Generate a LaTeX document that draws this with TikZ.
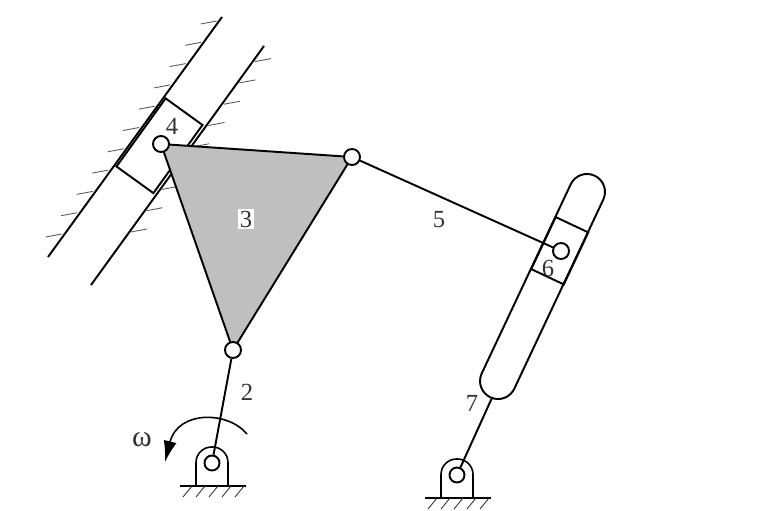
\documentclass[tikz,border=0pt]{standalone}
\usepackage{fontspec}
\setmainfont{Liberation Serif}
\usetikzlibrary{arrows.meta}
\usetikzlibrary{shapes}
\begin{document}
\begin{tikzpicture}[x=0.02cm,y=-0.02cm,font=\fontsize{14}{16}\selectfont,
                pin/.style={circle, draw, fill=white, inner sep=0pt, minimum size=0.32cm, line width=1.1pt},
                block/.style={rectangle, draw, inner sep=0pt, line width=1.1pt},
                slot/.style={rounded rectangle, draw, fill=white, inner sep=0pt, line width=1.1pt},
                num/.style={text=black!80, inner sep=1pt},
                link/.style={draw,line width=1.1pt},
                rail/.style={draw,line width=1.1pt},
                hatch/.style={draw,black!65,line width=0.5pt},
                arrow/.style={draw,line width=0.9pt,-{Latex[length=12pt,width=7.5pt]}}
            ]
            \useasboundingbox (0,0) rectangle (773,510);
            \foreach \i in {0,...,10}
                \path[hatch] ({200.7-15.5*\i},{24+21.3*\i}) -- ++(16,-3);
            \foreach \i in {0,...,8}
                \path[hatch] ({255-15.5*\i},{61.6+21.3*\i}) -- ++(16,-3);
            \coordinate (railatop) at (222,17);
            \coordinate (railabot) at (48,257);
            \coordinate (railbtop) at (264,46);
            \coordinate (railbbot) at (91,285);
            \path[rail] (railatop) -- (railabot);
            \path[rail] (railbtop) -- (railbbot);
            \node[block, minimum width=1.68cm, minimum height=0.91cm, rotate=54.2](s4) at (159.5,145.75){};
            \coordinate (c4) at (161,144);
            \coordinate (c3) at (352,157);
            \coordinate (c2) at (233,350);
            \path[link,fill=black!25] (c4) -- (c3) -- (c2) -- cycle;
            \node[pin](j4) at (c4){};
            \node[pin](j3) at (c3){};
            \node[pin](j2) at (c2){};
            \node[pin, minimum size=0.3cm](o2) at (212,463){};
            \node[pin, minimum size=0.3cm](o7) at (457,475){};
            \foreach \px/\py in {212/463,457/475}{
                \begin{scope}[shift={(\px,\py)}]
                \path[link,line width=0.9pt,rounded corners=0.31cm] (-16,23) -- (-16,-16) -- (16,-16) -- (16,23);
                \path[link,line width=0.9pt] (-32,23) -- (34,23);
                \foreach \k in {-26,-13,0,13,26}
                    \path[hatch,black!80] ({\k+6},23) -- ++(-9,11);
                \end{scope}
            }
            \node[slot, minimum width=4.9cm, minimum height=0.72cm, rotate=64.8](s7) at (542.5,286.5){};
            \node[block, minimum width=1.15cm, minimum height=0.72cm, rotate=64.8](s6) at (559.75,250.75){};
            \node[pin](j6) at (561,251){};
            \path[link] (j3) -- (j6);
            \path[link] (j2) -- (o2);
            \path[link] (s7) -- (o7);
            \coordinate (omegaa) at (247,434);
            \coordinate (omegab) at (165,462);
            \path[arrow] (omegaa) .. controls (228,411) and (178,410) .. (omegab);
            \node[num](l2) at (247,392){2};
            \node[num,fill=white](l3) at (246,219){3};
            \node[num](l4) at (172,126){4};
            \node[num](l5) at (439,220){5};
            \node[num](l6) at (548,268){6};
            \node[num](l7) at (472,403){7};
            \node[num,font=\fontsize{17}{18}\selectfont](lw) at (142,440){ω};
        \end{tikzpicture}
\end{document}
